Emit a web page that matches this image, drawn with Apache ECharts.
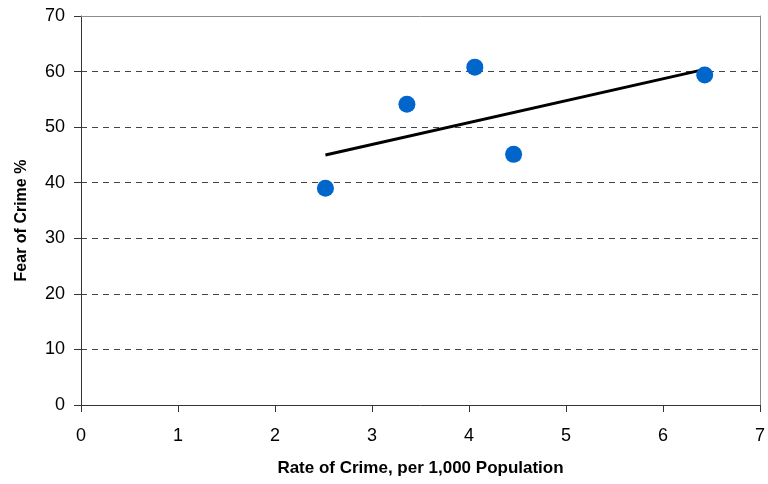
<!DOCTYPE html>
<html>
<head>
<meta charset="utf-8">
<script src="https://cdn.jsdelivr.net/npm/echarts@6/dist/echarts.min.js"></script>
<style>html,body{margin:0;padding:0;background:#fff}#c{width:768px;height:484px}</style>
</head>
<body>
<div id="c"></div>
<script>
var crimeRate = [2.52, 3.36, 4.06, 4.46, 6.43];
var fearPct = [39.0, 54.1, 60.8, 45.1, 59.4];
var trendX = [2.52, 6.43];
var trendY = [45.0, 60.4];
var xTicks = [0, 1, 2, 3, 4, 5, 6, 7];
var yTicks = [0, 10, 20, 30, 40, 50, 60, 70];

var points = crimeRate.map(function (x, i) { return [x, fearPct[i]]; });
var trend = trendX.map(function (x, i) { return [x, trendY[i]]; });

var xMin = xTicks[0], xMax = xTicks[xTicks.length - 1];
var yMin = yTicks[0], yMax = yTicks[yTicks.length - 1];

var chart = echarts.init(document.getElementById('c'), null, {renderer: 'canvas'});
chart.setOption({
  animation: false,
  backgroundColor: '#ffffff',
  textStyle: {fontFamily: 'Liberation Sans, Arial, sans-serif'},
  grid: {left: 81, right: 5, top: 16, bottom: 79},
  xAxis: [{
    type: 'value', min: xMin, max: xMax, interval: 1,
    name: 'Rate of Crime, per 1,000 Population', nameLocation: 'middle', nameGap: 55,
    nameTextStyle: {fontSize: 17, fontWeight: 'bold', color: '#000'},
    axisLine: {show: true, onZero: false, lineStyle: {color: '#333', width: 1}},
    axisTick: {show: true, inside: false, length: 7, lineStyle: {color: '#333'}},
    axisLabel: {fontSize: 18, color: '#000', margin: 22},
    splitLine: {show: false}
  }, {
    type: 'value', min: xMin, max: xMax, position: 'top',
    axisLine: {show: true, onZero: false, lineStyle: {color: '#8c8c8c', width: 1}},
    axisTick: {show: false}, axisLabel: {show: false}, splitLine: {show: false}
  }],
  yAxis: [{
    type: 'value', min: yMin, max: yMax, interval: 10,
    name: 'Fear of Crime %', nameLocation: 'middle', nameGap: 51, nameRotate: 90,
    nameTextStyle: {fontSize: 16, fontWeight: 'bold', color: '#000', padding: [0, 20, 0, 0]},
    axisLine: {show: true, onZero: false, lineStyle: {color: '#333', width: 1}},
    axisTick: {show: true, inside: false, length: 7, lineStyle: {color: '#333'}},
    axisLabel: {fontSize: 18, color: '#000', margin: 16},
    splitLine: {show: true, lineStyle: {color: '#444', type: [6, 5], width: 1}}
  }, {
    type: 'value', min: yMin, max: yMax, position: 'right',
    axisLine: {show: true, onZero: false, lineStyle: {color: '#8c8c8c', width: 1}},
    axisTick: {show: false}, axisLabel: {show: false}, splitLine: {show: false}
  }],
  series: [
    {
      type: 'line', data: trend, symbol: 'none',
      lineStyle: {color: '#000', width: 3}, z: 3
    },
    {
      type: 'scatter', data: points, symbol: 'circle', symbolSize: 17,
      itemStyle: {color: '#0066CC', opacity: 1}, z: 4
    }
  ]
});
</script>
</body>
</html>
